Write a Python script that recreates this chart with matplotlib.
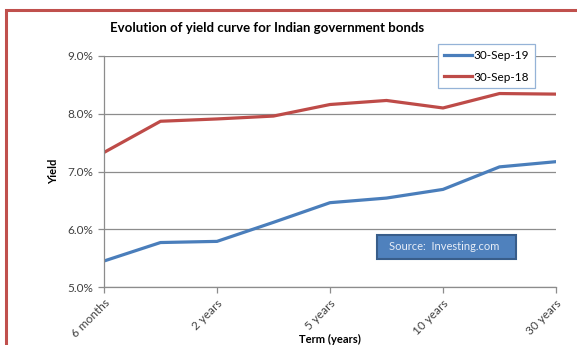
"""
Yield curve evolution for Indian government bonds
"""

import matplotlib
matplotlib.use("Agg")
from matplotlib import pyplot as plt
from matplotlib.patches import Rectangle
from matplotlib.ticker import FuncFormatter

terms = ["6 months", "1 year", "2 years", "3 years", "5 years",
         "7 years", "10 years", "15 years", "30 years"]
yield_sep19 = [5.45, 5.77, 5.79, 6.12, 6.46, 6.54, 6.69, 7.08, 7.17]
yield_sep18 = [7.33, 7.87, 7.91, 7.96, 8.16, 8.23, 8.10, 8.35, 8.34]

plt.rcParams["font.family"] = ["Lato", "DejaVu Sans"]

fig = plt.figure(figsize=(5.77, 3.45), dpi=100)
W, H = 577, 345
ax = fig.add_axes([104 / W, 1 - 287 / H, (556 - 104) / W, (287 - 56) / H])

xs = list(range(len(terms)))
ax.plot(xs, yield_sep19, color="#4A7EBB", lw=2.3, label="30-Sep-19",
        solid_joinstyle="round")
ax.plot(xs, yield_sep18, color="#BE4B48", lw=2.3, label="30-Sep-18",
        solid_joinstyle="round")

ax.set_xlim(0, len(terms) - 1)
ax.set_ylim(5, 9)
ax.set_yticks([5, 6, 7, 8, 9])
ax.yaxis.set_major_formatter(FuncFormatter(lambda v, p: f"{v:.1f}%"))
ax.set_xticks(xs[::2])
ax.set_xticklabels(terms[::2], rotation=45, ha="right", rotation_mode="anchor")

ax.grid(axis="y", color="#8C8C8C", lw=0.9)
ax.set_axisbelow(True)
for s in ["top", "right"]:
    ax.spines[s].set_visible(False)
for s in ["left", "bottom"]:
    ax.spines[s].set_color("#8C8C8C")
    ax.spines[s].set_linewidth(0.9)
ax.tick_params(colors="#8C8C8C", labelcolor="#404040", labelsize=8.5,
               length=4, width=0.9)

ax.set_ylabel("Yield", fontsize=8, fontweight="bold", labelpad=6)
fig.text(330 / W, 1 - 339 / H, "Term (years)", fontsize=8, fontweight="bold",
         ha="center", va="center")
fig.text(267 / W, 1 - 28 / H, "Evolution of yield curve for Indian government bonds",
         fontsize=9.5, fontweight="bold", ha="center", va="center")

leg = ax.legend(loc="upper left", bbox_to_anchor=(438 / W, 1 - 44 / H),
                bbox_transform=fig.transFigure, fontsize=8.5, frameon=True,
                fancybox=False, edgecolor="#95B3D7", handlelength=2.4,
                handletextpad=0.1, borderpad=0.5, borderaxespad=0,
                labelspacing=0.9)
leg.get_frame().set_linewidth(0.9)
leg.get_frame().set_alpha(1)

# source box
fig.patches.append(Rectangle((377 / W, 1 - 259 / H), (516 - 377) / W, 24 / H,
                             transform=fig.transFigure, facecolor="#4F81BD",
                             edgecolor="#385D8A", lw=1.5))
fig.text(389 / W, 1 - 247 / H, "Source:  Investing.com", color="#E8EEF7",
         fontsize=8, ha="left", va="center")

# outer red frame, cut by the image edge
fig.patches.append(Rectangle((6 / W, -0.1), 1.2, 1 - 10 / H + 0.1,
                             transform=fig.transFigure, facecolor="none",
                             edgecolor="#C0504D", lw=2.2))

fig.savefig("out.png", dpi=100)
